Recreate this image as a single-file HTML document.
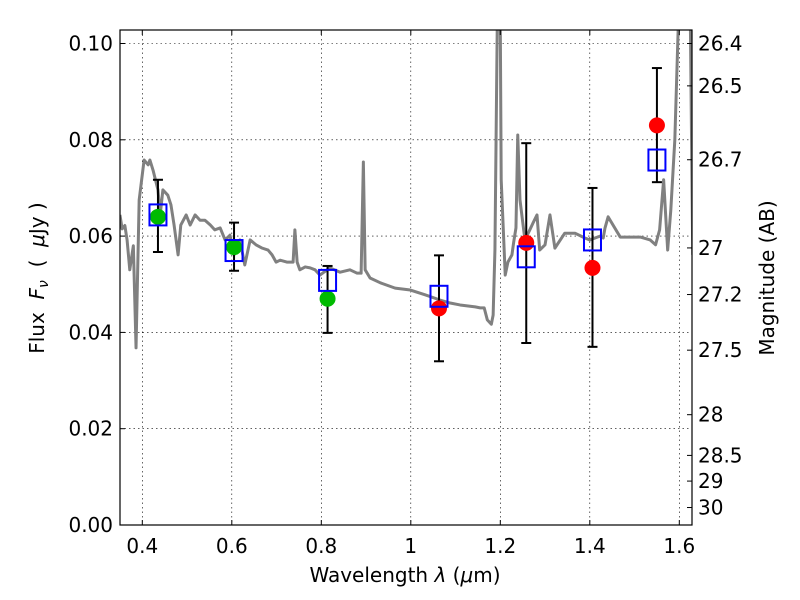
<!DOCTYPE html>
<html><head><meta charset="utf-8"><style>
body{margin:0;background:#fff;}
svg{display:block;font-family:"DejaVu Sans","Liberation Sans",sans-serif;}
</style></head><body>
<svg id="chart" width="800" height="600">
<defs><clipPath id="clip"><rect x="120" y="30" width="572" height="495"/></clipPath></defs>
<rect x="0" y="0" width="800" height="600" fill="#fff"/>
<g id="grid"></g>
<g id="spec" clip-path="url(#clip)"></g>
<g id="marks"></g>
<rect x="120" y="30" width="572" height="495" fill="none" stroke="#000" stroke-width="1.2"/>
<g id="ticks"></g>
<text x="405" y="582" font-size="20" text-anchor="middle">Wavelength  <tspan font-style="italic">λ</tspan> (<tspan font-style="italic">μ</tspan>m)</text>
<text transform="translate(44,278) rotate(-90)" font-size="20" text-anchor="middle" xml:space="preserve">Flux  <tspan font-style="italic">F<tspan font-size="14" dy="4">ν</tspan></tspan><tspan dy="-4">  (  </tspan><tspan font-style="italic">μ</tspan>Jy )</text>
<text transform="translate(774,278) rotate(-90)" font-size="20" text-anchor="middle">Magnitude (AB)</text>
</svg>
<script>
const specWave=[0.35,0.355,0.361,0.366,0.372,0.38,0.386,0.393,0.404,0.413,0.417,0.424,0.435,0.44,0.446,0.457,0.464,0.471,0.48,0.486,0.498,0.507,0.518,0.529,0.54,0.552,0.562,0.574,0.585,0.596,0.605,0.618,0.629,0.641,0.654,0.668,0.681,0.69,0.699,0.708,0.723,0.737,0.741,0.746,0.752,0.764,0.775,0.786,0.797,0.819,0.842,0.864,0.88,0.889,0.894,0.898,0.909,0.932,0.965,0.999,1.032,1.066,1.088,1.11,1.144,1.155,1.164,1.171,1.18,1.184,1.188,1.195,1.199,1.202,1.211,1.217,1.226,1.23,1.235,1.239,1.244,1.255,1.266,1.273,1.282,1.288,1.3,1.311,1.322,1.344,1.367,1.389,1.4,1.423,1.43,1.434,1.441,1.468,1.513,1.535,1.547,1.556,1.565,1.574,1.581,1.59,1.603,1.616,1.623,1.63];
const specFlux=[0.0644,0.0615,0.0622,0.0592,0.053,0.058,0.0368,0.0675,0.0758,0.0748,0.0758,0.0737,0.0696,0.0644,0.0696,0.0685,0.0665,0.0623,0.0561,0.0623,0.0644,0.0623,0.0644,0.0633,0.0633,0.0623,0.0613,0.0617,0.0592,0.0602,0.0561,0.0592,0.054,0.0592,0.0582,0.0575,0.0571,0.0561,0.0546,0.055,0.0546,0.0546,0.0613,0.0546,0.053,0.0536,0.0534,0.053,0.0519,0.0534,0.0525,0.053,0.0523,0.0523,0.0754,0.053,0.0513,0.0503,0.0492,0.0488,0.0478,0.0467,0.0461,0.0457,0.0453,0.0451,0.0451,0.0426,0.0417,0.0436,0.0571,0.12,0.12,0.0717,0.0519,0.0546,0.0561,0.0588,0.0617,0.081,0.0675,0.0592,0.0613,0.0627,0.0644,0.0571,0.0582,0.0644,0.0575,0.0606,0.0606,0.0596,0.0592,0.06,0.0596,0.0617,0.064,0.0598,0.0598,0.0592,0.0582,0.0613,0.0717,0.0571,0.0654,0.08,0.12,0.12,0.12,0.0561];
const bandWave=[0.435,0.605,0.814,1.063,1.258,1.406,1.55];
const modelFlux=[0.0644,0.057,0.0508,0.0475,0.0557,0.0592,0.0758];
const obsFlux=[0.064,0.0577,0.047,0.045,0.0586,0.0534,0.083];
const errLow=[0.0567,0.0528,0.0399,0.034,0.0378,0.037,0.0712];
const errHigh=[0.0717,0.0628,0.0538,0.056,0.0793,0.07,0.0949];
const obsColor=["#00bb00","#00bb00","#00bb00","#ff0000","#ff0000","#ff0000","#ff0000"];
const xTicks=[0.4,0.6,0.8,1.0,1.2,1.4,1.6];
const xTickLabels=["0.4","0.6","0.8","1","1.2","1.4","1.6"];
const yTicks=[0,0.02,0.04,0.06,0.08,0.10];
const yTickLabels=["0.00","0.02","0.04","0.06","0.08","0.10"];
const magTicks=[26.4,26.5,26.7,27,27.2,27.5,28,28.5,29,30];

const NS="http://www.w3.org/2000/svg";
const X=l=>142.3+(l-0.4)*447.5;
const Y=f=>525-f*4815;
const mk=(p,tag,a)=>{const e=document.createElementNS(NS,tag);for(const k in a)e.setAttribute(k,a[k]);p.appendChild(e);return e;};
const grid=document.getElementById('grid'),ticks=document.getElementById('ticks'),spec=document.getElementById('spec'),marks=document.getElementById('marks');

xTicks.forEach((t,i)=>{
  const g=mk(grid,'line',{x1:X(t),x2:X(t),y1:30,y2:525,stroke:'#000','stroke-width':0.6,'stroke-dasharray':'1.5,3'});
  
  
  mk(ticks,'line',{x1:X(t),x2:X(t),y1:525,y2:520,stroke:'#000'});
  mk(ticks,'line',{x1:X(t),x2:X(t),y1:30,y2:35,stroke:'#000'});
  const tx=mk(ticks,'text',{x:X(t),y:553,'font-size':20,'text-anchor':'middle'});tx.textContent=xTickLabels[i];
  
  
});
yTicks.forEach((t,i)=>{
  const g=mk(grid,'line',{x1:120,x2:692,y1:Y(t),y2:Y(t),stroke:'#000','stroke-width':0.6,'stroke-dasharray':'1.5,3'});
  
  
  mk(ticks,'line',{x1:120,x2:125,y1:Y(t),y2:Y(t),stroke:'#000'});
  const tx=mk(ticks,'text',{x:113,y:Y(t)+7,'font-size':20,'text-anchor':'end'});tx.textContent=yTickLabels[i];
  
  
});
magTicks.forEach(m=>{
  const f=Math.pow(10,(23.9-m)/2.5);const y=Y(f);
  mk(ticks,'line',{x1:692,x2:687,y1:y,y2:y,stroke:'#000'});
  const tx=mk(ticks,'text',{x:698,y:y+7,'font-size':20});tx.textContent=String(m);
  
  
});
const pl=mk(spec,'polyline',{points:specWave.map((l,i)=>X(l)+','+Y(specFlux[i])).join(' '),fill:'none',stroke:'#808080','stroke-width':3,'stroke-linejoin':'round'});


bandWave.forEach((l,i)=>{
  const x=X(l);
  const e=mk(marks,'g',{});
  
  
  mk(e,'line',{x1:x,x2:x,y1:Y(errLow[i]),y2:Y(errHigh[i]),stroke:'#000','stroke-width':2});
  mk(e,'line',{x1:x-5,x2:x+5,y1:Y(errLow[i]),y2:Y(errLow[i]),stroke:'#000','stroke-width':2});
  mk(e,'line',{x1:x-5,x2:x+5,y1:Y(errHigh[i]),y2:Y(errHigh[i]),stroke:'#000','stroke-width':2});
  const c=mk(marks,'circle',{cx:x,cy:Y(obsFlux[i]),r:8,fill:obsColor[i]});
  
  
  const s=mk(marks,'rect',{x:x-8.5,y:Y(modelFlux[i])-10.5,width:17,height:21,fill:'none',stroke:'#0000ff','stroke-width':2});
  
  
});
</script>
</body></html>
